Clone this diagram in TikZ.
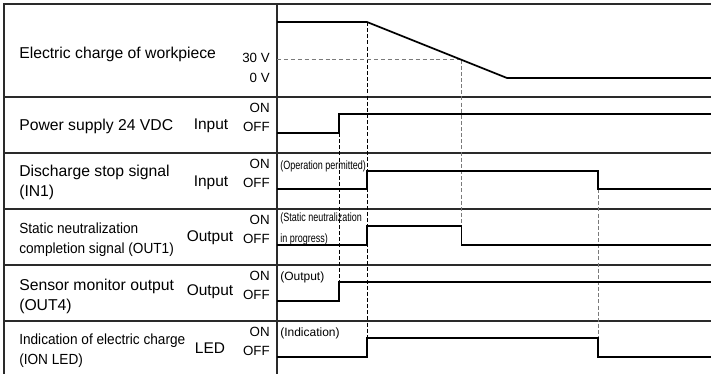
\documentclass[tikz,border=0pt]{standalone}
\usepackage{fontspec}
\setmainfont{Liberation Sans}
\newfontfamily\narrowsans[FakeStretch=0.75]{Liberation Sans}
\newfontfamily\condsans[FakeStretch=0.93]{Liberation Sans}
\usetikzlibrary{positioning}
\definecolor{frameline}{HTML}{2A2A2A}
\definecolor{guidegray}{HTML}{7A7A7A}

\begin{document}
\begin{tikzpicture}[
    x=0.75pt, y=-0.75pt,
    frame/.style={draw=frameline, line width=0.8pt},
    wave/.style={line width=1.3pt, line join=miter},
    guide/.style={line width=0.75pt, dash pattern=on 3pt off 1.6pt},
    rowlabel/.style={anchor=west, align=left, inner sep=0pt,
      font=\fontsize{11.8}{15}\selectfont},
    smalllabel/.style={rowlabel, font=\fontsize{11}{15}\condsans},
    iolabel/.style={inner sep=0pt, font=\fontsize{11.6}{14}\selectfont},
    level/.style={anchor=east, inner sep=0pt, font=\fontsize{10}{12}\selectfont},
    note/.style={anchor=west, inner sep=0pt, font=\fontsize{9}{15.5}\selectfont},
    narrownote/.style={note, align=left, font=\fontsize{9}{15.5}\narrowsans}
  ]
  \useasboundingbox (0,0) rectangle (711,374);

  % frame and rows
  \draw[frame] (711,4) -- (4,4) -- (4,374);
  \draw[frame] (277,4) -- (277,374);
  \foreach \rowtop in {97,153,209,265,321} {
    \draw[frame] (4,\rowtop) -- (711,\rowtop);
    \node[level] (on-\rowtop) at (270,\rowtop+11) {ON};
    \node[level] (off-\rowtop) at (270,\rowtop+30) {OFF};
  }

  % signal names
  \node[rowlabel] (charge) at (19,54) {Electric charge of workpiece};
  \node[level] (volt30) at (270,58) {30 V};
  \node[level] (volt0) at (270,78) {0 V};
  \node[rowlabel] (power) at (19,126) {Power supply 24 VDC};
  \node[iolabel] (power-io) at (211,126) {Input};
  \node[rowlabel] (stop) at (19,182) {Discharge stop signal\\(IN1)};
  \node[iolabel] (stop-io) at (211,183) {Input};
  \node[smalllabel] (done) at (19,240) {Static neutralization\\completion signal (OUT1)};
  \node[iolabel] (done-io) at (210,238) {Output};
  \node[rowlabel] (monitor) at (19,296) {Sensor monitor output\\(OUT4)};
  \node[iolabel] (monitor-io) at (210,292) {Output};
  \node[smalllabel] (led) at (19,351) {Indication of electric charge\\(ION LED)};
  \node[iolabel] (led-io) at (210,348) {LED};

  % notes on the chart
  \node[narrownote] (permit-note) at (280,166) {(Operation permitted)};
  \node[narrownote] (progress-note) at (280,229) {(Static neutralization\\in progress)};
  \node[note] (output-note) at (280,277) {(Output)};
  \node[note] (indication-note) at (280,333) {(Indication)};

  % guides
  \draw[guide] (339,133) -- (339,282);
  \draw[guide] (367,22) -- (367,338);
  \draw[guide, draw=guidegray, dash pattern=on 3pt off 2.2pt] (277,59.6) -- (461.5,59.6);
  \draw[guide, draw=guidegray] (461.5,59.6) -- (461.5,226);
  \draw[guide, draw=guidegray] (598,189) -- (598,338);

  % waveforms
  \draw[wave] (277,22) -- (367,22) -- (507,78) -- (711,78);
  \draw[wave] (277,133) -- (339,133) -- (339,114) -- (711,114);
  \draw[wave] (277,189) -- (367,189) -- (367,171) -- (598,171) -- (598,189) -- (711,189);
  \draw[wave] (277,245) -- (367,245) -- (367,226) -- (461.5,226) -- (461.5,245) -- (711,245);
  \draw[wave] (277,301) -- (339,301) -- (339,282) -- (711,282);
  \draw[wave] (277,357) -- (367,357) -- (367,338) -- (598,338) -- (598,357) -- (711,357);
\end{tikzpicture}
\end{document}
